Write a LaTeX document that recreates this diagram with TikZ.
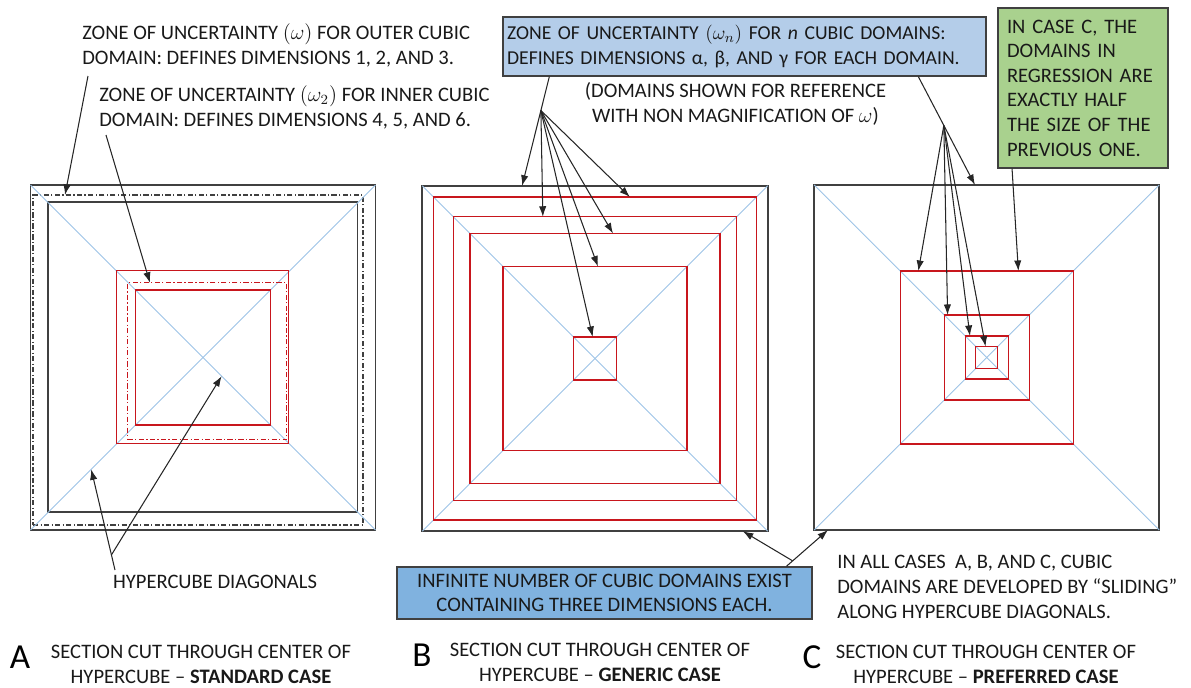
\documentclass[tikz,border=0pt]{standalone}
\usepackage{fontspec}
\setmainfont{Carlito}
\usetikzlibrary{arrows.meta,calc,positioning}
\definecolor{sqdark}{HTML}{404040}
\definecolor{sqred}{HTML}{C8161D}
\definecolor{diagblue}{HTML}{9DC3E6}
\definecolor{notelight}{HTML}{B4CDE9}
\definecolor{notedark}{HTML}{80B2DF}
\definecolor{notegreen}{HTML}{A9D18E}

\begin{document}
\begin{tikzpicture}[
    x=0.02cm, y=-0.02cm,
    blksq/.style={
        draw=sqdark,
        line width=1pt,
        inner sep=0pt,
        outer sep=0pt,
        minimum size=#1*0.02cm
    },
    redsq/.style={
        draw=sqred,
        line width=0.75pt,
        inner sep=0pt,
        outer sep=0pt,
        minimum size=#1*0.02cm
    },
    dashdot/.style={
        dash pattern=on 3pt off 1.3pt on 0.7pt off 1.3pt
    },
    diag/.style={
        draw=diagblue,
        line width=0.5pt
    },
    arr/.style={
        -{Latex[length=6pt,width=4.2pt]},
        line width=0.6pt,
        draw=black!85
    },
    txt/.style={
        font=\fontsize{11.7}{14.2}\selectfont,
        text=black!90,
        inner sep=0pt,
        align=left
    },
    casebox/.style={
        draw=sqdark,
        line width=0.8pt,
        font=\fontsize{11.7}{14}\selectfont,
        text=black!90,
        inner ysep=0pt
    },
    letter/.style={
        font=\fontsize{20}{22}\selectfont,
        inner sep=0pt
    }
]
\useasboundingbox (0,0) rectangle (1191,687);

% Case A: standard case
\node[blksq=345] (a0) at (203,357.5) {};
\node[blksq=0, minimum width=330*0.02cm, minimum height=330*0.02cm,
      line width=0.6pt, dashdot] (a1) at (198,360) {};
\node[blksq=309.5] (a2) at (202.8,357) {};
\draw[diag] (a0.north west) -- (a0.south east);
\draw[diag] (a0.south west) -- (a0.north east);
\node[redsq=172.5] (a3) at (202.5,357) {};
\node[redsq=0, minimum width=159*0.02cm, minimum height=157*0.02cm, dashdot] (a4) at (207.2,361.3) {};
\node[redsq=135] (a5) at (202.8,357.5) {};

% Case B: generic case
\node[blksq=345.4] (b0) at (595,358.5) {};
\draw[diag] (b0.north west) -- (b0.south east);
\draw[diag] (b0.south west) -- (b0.north east);
\foreach \s [count=\i] in {323,283.4,250,184,43} {
    \node[redsq=\s] (b\i) at (595,358.5) {};
}

% Case C: preferred case (each domain half the previous one)
\node[blksq=345] (c0) at (986.7,357.5) {};
\draw[diag] (c0.north west) -- (c0.south east);
\draw[diag] (c0.south west) -- (c0.north east);
\foreach \s [count=\i] in {173,85,43,22} {
    \node[redsq=\s] (c\i) at (986.7,357.5) {};
}

% Notes at the top
\node[txt, anchor=west] (zoneOuter) at (82,45.5)
    {ZONE OF UNCERTAINTY $(\omega)$ FOR OUTER CUBIC\\DOMAIN: DEFINES DIMENSIONS 1, 2, AND 3.};
\node[txt, anchor=west] (zoneInner) at (99,107.5)
    {ZONE OF UNCERTAINTY $(\omega_2)$ FOR INNER CUBIC\\DOMAIN: DEFINES DIMENSIONS 4, 5, AND 6.};
\node[txt, align=center] (refNote) at (735.5,104)
    {(DOMAINS SHOWN FOR REFERENCE\\WITH NON MAGNIFICATION OF $\omega$)};
\node[casebox, fill=notelight, align=left, text width=9.5cm, inner xsep=0.08cm,
      font=\fontsize{11.2}{14}\selectfont, minimum height=1.18cm] (zoneN) at (744.5,46.5)
    {ZONE OF UNCERTAINTY $(\omega_n)$ FOR \textit{n} CUBIC DOMAINS:\\DEFINES DIMENSIONS α, β, AND γ FOR EACH DOMAIN.};
\node[casebox, fill=notegreen, align=left, text width=3.04cm, inner xsep=0.18cm,
      minimum height=3.2cm] (caseC) at (1083,88)
    {IN CASE C, THE\\DOMAINS IN\\REGRESSION ARE\\EXACTLY HALF\\THE SIZE OF THE\\PREVIOUS ONE.};

% Notes at the bottom
\node[txt, align=center] (diagNote) at (215,582) {HYPERCUBE DIAGONALS};
\node[casebox, fill=notedark, align=center, minimum width=8.3cm,
      minimum height=1.04cm] (infBox) at (604.5,593)
    {INFINITE NUMBER OF CUBIC DOMAINS EXIST\\CONTAINING THREE DIMENSIONS EACH.};
\node[txt, anchor=west] (slideNote) at (837,586.5)
    {IN ALL CASES\ \ A, B, AND C, CUBIC\\DOMAINS ARE DEVELOPED BY “SLIDING”\\ALONG HYPERCUBE DIAGONALS.};

% Case captions
\node[letter] (letA) at (20,657) {A};
\node[txt, align=center] (capA) at (201,664)
    {SECTION CUT THROUGH CENTER OF\\HYPERCUBE – \textbf{STANDARD CASE}};
\node[letter] (letB) at (422,655) {B};
\node[txt, align=center] (capB) at (600,662)
    {SECTION CUT THROUGH CENTER OF\\HYPERCUBE – \textbf{GENERIC CASE}};
\node[letter] (letC) at (812,657) {C};
\node[txt, align=center] (capC) at (986,664)
    {SECTION CUT THROUGH CENTER OF\\HYPERCUBE – \textbf{PREFERRED CASE}};

% Arrows for case A
\coordinate (tailA1) at (88,76);
\coordinate (tailA2) at (106,135);
\draw[arr] (tailA1) -- ($(a1.north west)!.097!(a1.north east)$);
\draw[arr] (tailA2) -- ($(a4.north west)!.14!(a4.north east)$);
\coordinate (diagTail) at (115,570);
\coordinate (diagHead) at ($(a0.south west)!.176!(a0.north east)$);
\draw[arr] (diagTail) -- (diagHead);
\draw[arr] ($(diagTail)!.15!(diagHead)$) -- ($(a0.north west)!.554!(a0.south east)$);

% Arrows for case B
\coordinate (tB) at ($(zoneN.south west)!.097!(zoneN.south east)$);
\coordinate (hB) at ($(b0.north west)!.289!(b0.north east)$);
\coordinate (forkB) at ($(tB)!.31!(hB)$);
\draw[arr] (tB) -- (hB);
\foreach \n/\f in {1/.608,2/.316,3/.572,4/.516,5/.447} {
    \draw[arr] (forkB) -- ($(b\n.north west)!\f!(b\n.north east)$);
}

% Arrows for case C
\coordinate (tC) at ($(zoneN.south west)!.859!(zoneN.south east)$);
\coordinate (hC) at ($(c0.north west)!.466!(c0.north east)$);
\coordinate (forkC) at ($(tC)!.45!(hC)$);
\draw[arr] (tC) -- (hC);
\foreach \n/\f in {1/.105,2/.04,3/.11,4/.45} {
    \draw[arr] (forkC) -- ($(c\n.north west)!\f!(c\n.north east)$);
}
\draw[arr] ($(caseC.south west)!.086!(caseC.south east)$) -- ($(c1.north west)!.683!(c1.north east)$);

% Arrows from the bottom box
\coordinate (tInf) at ($(infBox.north west)!.937!(infBox.north east)$);
\coordinate (hInf) at ($(c0.south west)!.04!(c0.south east)$);
\draw[arr] (tInf) -- (hInf);
\draw[arr] ($(tInf)!.15!(hInf)$) -- ($(b0.south west)!.928!(b0.south east)$);

\end{tikzpicture}
\end{document}
